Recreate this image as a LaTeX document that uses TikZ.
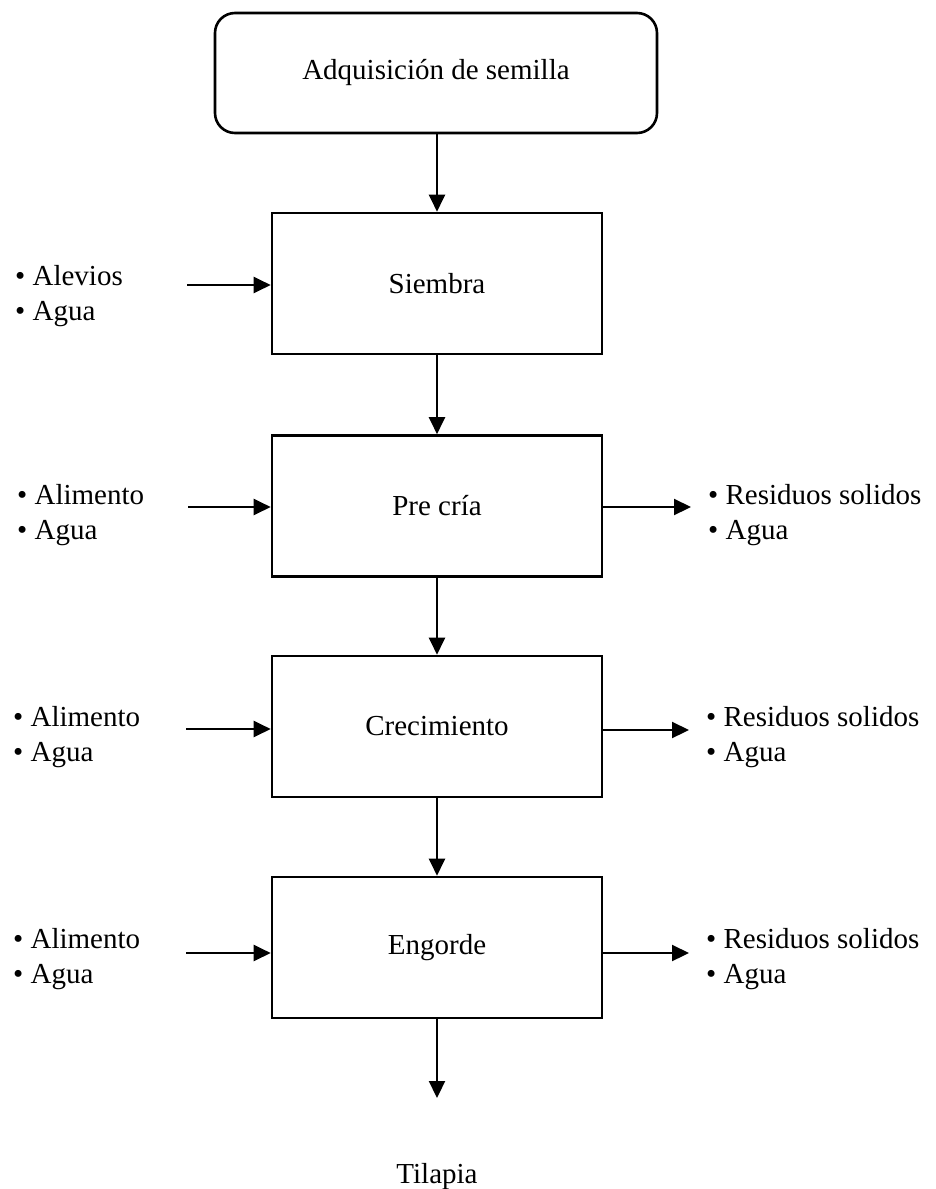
\documentclass[tikz,border=0pt]{standalone}
\usepackage{fontspec}
\setmainfont{Liberation Serif}
\usetikzlibrary{arrows.meta}
\begin{document}
\begin{tikzpicture}[x=1pt,y=-1pt,
  every node/.style={font=\fontsize{29}{35}\selectfont},
  stage/.style={draw,line width=2.6pt,minimum width=330pt,minimum height=141pt,inner sep=0pt},
  start/.style={stage,rounded corners=20pt,minimum width=442pt,minimum height=120pt},
  flow/.style={line width=2.2pt,-{Triangle[length=17pt,width=16pt]}},
  items/.style={align=left,inner sep=0pt,anchor=base west}]
\useasboundingbox (0,0) rectangle (936,1189);

% process chain
\node[start] (seed) at (436,73) {Adquisición de semilla};
\node[stage] (s1) at (437,283.5) {Siembra};
\node[stage] (s2) at (437,506) {Pre cría};
\node[stage] (s3) at (437,726.5) {Crecimiento};
\node[stage] (s4) at (437,947.5) {Engorde};
\node[anchor=base] (out) at (437,1183) {Tilapia};
\coordinate (end) at (437,1098);

\draw[flow] (seed.south -| s1.north) -- (s1.north);
\draw[flow] (s1) -- (s2);
\draw[flow] (s2) -- (s3);
\draw[flow] (s3) -- (s4);
\draw[flow] (s4.south) -- (end);

% inputs (the base anchor sits on the last line)
\node[items] (in1) at (15,320) {\textbullet{} Alevios\\\textbullet{} Agua};
\node[items] (in2) at (17,539) {\textbullet{} Alimento\\\textbullet{} Agua};
\node[items] (in3) at (13,761) {\textbullet{} Alimento\\\textbullet{} Agua};
\node[items] (in4) at (13,983) {\textbullet{} Alimento\\\textbullet{} Agua};
\coordinate (a1) at (187,285);
\coordinate (a2) at (188,507);
\coordinate (a3) at (186,729);
\coordinate (a4) at (186,953);
\draw[flow] (a1) -- (a1 -| s1.west);
\draw[flow] (a2) -- (a2 -| s2.west);
\draw[flow] (a3) -- (a3 -| s3.west);
\draw[flow] (a4) -- (a4 -| s4.west);

% outputs
\node[items] (o2) at (708,539) {\textbullet{} Residuos solidos\\\textbullet{} Agua};
\node[items] (o3) at (706,761) {\textbullet{} Residuos solidos\\\textbullet{} Agua};
\node[items] (o4) at (706,983) {\textbullet{} Residuos solidos\\\textbullet{} Agua};
\coordinate (b2) at (691,507);
\coordinate (b3) at (689,730);
\coordinate (b4) at (689,953);
\draw[flow] (b2 -| s2.east) -- (b2);
\draw[flow] (b3 -| s3.east) -- (b3);
\draw[flow] (b4 -| s4.east) -- (b4);
\end{tikzpicture}
\end{document}
